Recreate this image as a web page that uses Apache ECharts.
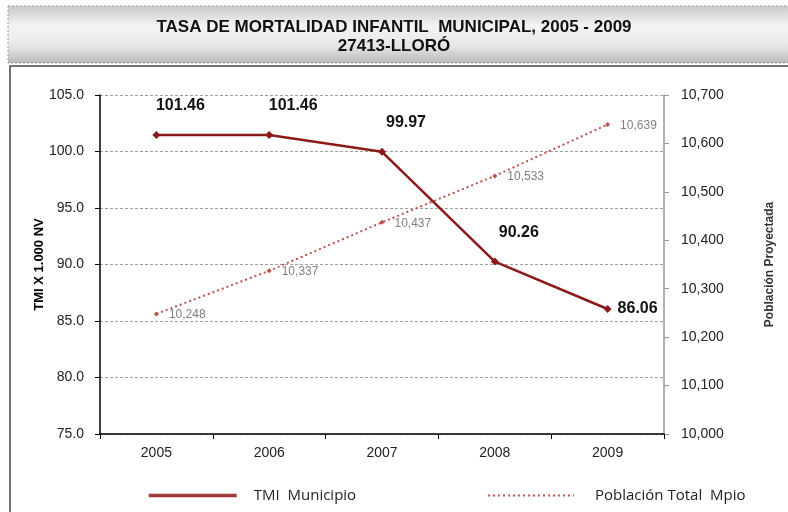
<!DOCTYPE html>
<html><head><meta charset="utf-8">
<script src="https://cdn.jsdelivr.net/npm/echarts@6/dist/echarts.min.js"></script>
<style>html,body{margin:0;padding:0;background:#fff}#c{width:788px;height:512px}</style>
</head><body><div id="c"></div>
<script>
const years = ['2005','2006','2007','2008','2009'];
const tmi = [101.46, 101.46, 99.97, 90.26, 86.06];
const poblacion = [10248, 10337, 10437, 10533, 10639];
const titleLine1 = 'TASA DE MORTALIDAD INFANTIL  MUNICIPAL, 2005 - 2009';
const titleLine2 = '27413-LLORÓ';
const legendNames = ['TMI  Municipio', 'Población Total  Mpio'];

const chart = echarts.init(document.getElementById('c'));
const tmiData = tmi.map((v, i) => i === tmi.length - 1
  ? {value: v, label: {position: 'right', distance: 6, offset: [0, 0]}}
  : {value: v});
chart.setOption({
  animation: false,
  backgroundColor: '#fff',
  graphic: [
    {type: 'rect', shape: {x: 8, y: 6, width: 790, height: 57}, z: -1,
     style: {fill: new echarts.graphic.LinearGradient(0, 0, 0, 1, [
       {offset: 0, color: '#c8c8c8'}, {offset: 0.35, color: '#f4f4f4'},
       {offset: 0.7, color: '#e6e6e6'}, {offset: 1, color: '#b8b8b8'}]),
       stroke: '#9a9a9a', lineWidth: 1, lineDash: [2, 2]}},
    {type: 'rect', shape: {x: 10, y: 66, width: 800, height: 460}, z: -1,
     style: {fill: '#fff', stroke: '#444', lineWidth: 1.5}},
    {type: 'text', left: 'center', top: 18, z: 10,
     style: {text: titleLine1 + '\n' + titleLine2, textAlign: 'center', fill: '#111',
       font: 'bold 17px "Liberation Sans", Arial', lineHeight: 19}}
  ],
  legend: [
    {data: [legendNames[0]], left: 142, top: 483, itemWidth: 88, itemHeight: 14,
     textStyle: {fontSize: 15, color: '#222', padding: [0, 0, 0, 12], fontFamily: 'Open Sans'},
     itemStyle: {opacity: 0}, lineStyle: {width: 3.5, color: '#a23a3a'}},
    {data: [legendNames[1]], left: 482, top: 483, itemWidth: 86, itemHeight: 14,
     textStyle: {fontSize: 15, color: '#222', padding: [0, 0, 0, 16], fontFamily: 'Open Sans'},
     itemStyle: {opacity: 0}, lineStyle: {width: 2, color: '#c05555', type: [2, 3]}}
  ],
  grid: {left: 100, right: 124, top: 95, bottom: 78},
  xAxis: {
    type: 'category', data: years, boundaryGap: true,
    axisLine: {lineStyle: {color: '#000', width: 1.5}},
    axisTick: {show: true, length: 5, lineStyle: {color: '#000'}},
    axisLabel: {fontSize: 14, color: '#222', margin: 12, fontFamily: 'Liberation Sans'}
  },
  yAxis: [
    {type: 'value', min: 75, max: 105, interval: 5,
     name: 'TMI X 1.000 NV', nameLocation: 'middle', nameGap: 54, nameRotate: 90, nameMoveOverlap: false,
     nameTextStyle: {fontWeight: 'bold', fontSize: 13, color: '#000', fontFamily: 'Liberation Sans'},
     axisLine: {show: true, lineStyle: {color: '#000', width: 1.5}},
     axisTick: {show: true, length: 5, lineStyle: {color: '#000'}},
     axisLabel: {fontSize: 14, color: '#222', margin: 16, formatter: v => v.toFixed(1), fontFamily: 'Liberation Sans'},
     splitLine: {show: true, lineStyle: {color: '#a0a0a0', type: [3, 2]}}},
    {type: 'value', min: 10000, max: 10700, interval: 100, position: 'right',
     name: 'Población Proyectada', nameLocation: 'middle', nameGap: 100, nameRotate: 90,
     nameTextStyle: {fontWeight: 'bold', fontSize: 12, color: '#333', fontFamily: 'Liberation Sans'},
     axisLine: {show: true, lineStyle: {color: '#999', width: 1.5}},
     axisTick: {show: true, length: 5, lineStyle: {color: '#999'}},
     axisLabel: {fontSize: 14, color: '#222', margin: 17, fontFamily: 'Liberation Sans',
       formatter: v => v.toLocaleString('en-US')},
     splitLine: {show: false}}
  ],
  series: [
    {name: legendNames[0], type: 'line', yAxisIndex: 0, data: tmiData, z: 5,
     symbol: 'diamond', symbolSize: 8,
     lineStyle: {color: '#8b1a1a', width: 2.5}, itemStyle: {color: '#8b1a1a'},
     label: {show: true, position: 'top', distance: 17, offset: [24, 0], fontSize: 16, fontWeight: 'bold', color: '#111',
       fontFamily: 'Liberation Sans', formatter: p => p.value.toFixed(2)}},
    {name: legendNames[1], type: 'line', yAxisIndex: 1, data: poblacion, z: 4,
     symbol: 'diamond', symbolSize: 5,
     lineStyle: {color: '#c0504d', width: 2, type: [2, 3]}, itemStyle: {color: '#c0504d'},
     label: {show: true, position: 'right', distance: 10, offset: [0, 1], fontSize: 12, color: '#7f7f7f',
       fontFamily: 'Liberation Sans', formatter: p => p.value.toLocaleString('en-US')}}
  ]
});
</script></body></html>
